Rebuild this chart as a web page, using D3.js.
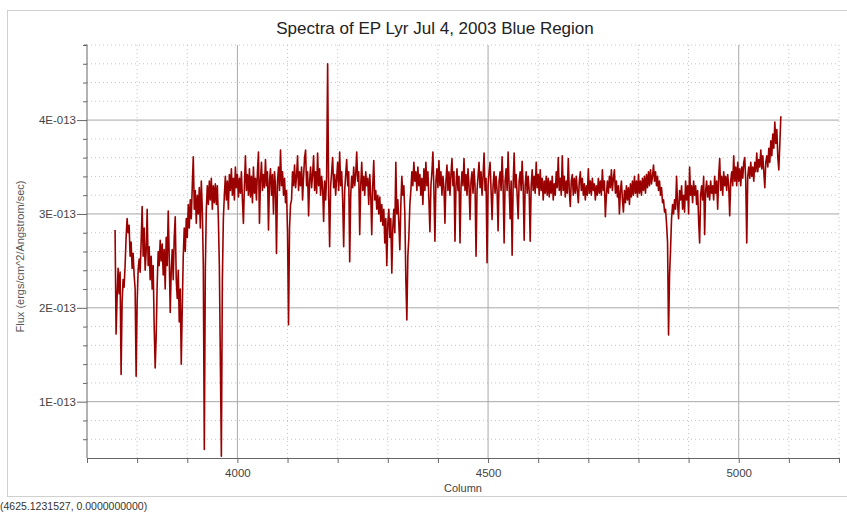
<!DOCTYPE html>
<html><head><meta charset="utf-8">
<script src="https://cdn.jsdelivr.net/npm/d3@7/dist/d3.min.js"></script>
<style>
html,body{margin:0;padding:0;background:#fff;}
svg{display:block;font-family:"Liberation Sans",Arial,sans-serif;}
</style></head><body>
<svg id="chart" width="847" height="514"></svg>
<script>
// Text
const title = "Spectra of EP Lyr Jul 4, 2003 Blue Region";
const xLabel = "Column";
const yLabel = "Flux (ergs/cm^2/Angstrom/sec)";
const cursorReadout = "(4625.1231527, 0.0000000000)";

// Axis ticks
const xMajorTicks = [4000, 4500, 5000];
const yMajorTicks = [1, 2, 3, 4];                 // in units of 1E-013
const yTickLabels = ["1E-013", "2E-013", "3E-013", "4E-013"];

// Spectrum sampling grid (column) and flux, in units of 1E-013 ergs/cm^2/Angstrom/sec
const columnStart = 3756;
const columnStep = 2;
const flux = [
  // 3756 - 3804
  2.83, 1.72, 2.10, 2.42, 2.15, 2.38, 1.29, 2.05, 2.30, 2.22, 2.45, 2.75, 2.95,
  2.80, 2.88, 2.55, 2.70, 2.42, 2.58, 2.35, 2.20, 1.27, 2.05, 2.40, 2.52,
  // 3806 - 3854
  2.38, 2.70, 3.08, 2.55, 2.85, 2.40, 2.60, 3.05, 2.45, 2.65, 2.30, 2.55, 2.20,
  2.45, 1.80, 1.36, 1.70, 2.25, 2.60, 2.45, 2.72, 2.50, 2.68, 2.35, 2.62,
  // 3856 - 3904
  2.20, 2.75, 2.45, 3.03, 2.55, 1.95, 2.40, 2.62, 2.30, 2.75, 2.97, 2.30, 2.10,
  2.40, 1.85, 2.20, 1.40, 2.00, 2.55, 2.85, 2.60, 2.95, 2.75, 3.10, 2.85,
  // 3906 - 3954
  3.15, 2.95, 3.30, 3.61, 3.05, 3.25, 2.90, 3.20, 3.00, 3.28, 2.85, 3.35, 3.05,
  2.45, 0.49, 2.40, 3.05, 3.30, 3.10, 3.35, 3.15, 3.38, 3.05, 3.30, 3.12,
  // 3956 - 4004
  3.32, 3.10, 3.30, 2.95, 2.45, 1.45, 0.42, 2.30, 2.95, 3.20, 3.40, 3.15, 3.35,
  3.05, 3.42, 3.25, 3.48, 3.20, 3.38, 3.15, 3.50, 3.28, 3.42, 3.18, 3.38,
  // 4006 - 4054
  3.22, 3.45, 3.15, 2.90, 3.30, 3.62, 3.25, 3.42, 3.20, 3.48, 3.18, 3.40, 3.12,
  3.50, 3.22, 3.38, 3.15, 3.45, 3.66, 2.90, 3.35, 3.55, 3.25, 3.42, 3.28,
  // 4056 - 4104
  3.58, 3.30, 3.45, 2.83, 3.35, 3.48, 3.20, 3.42, 3.00, 3.45, 3.30, 2.58, 3.35,
  3.50, 3.25, 3.68, 3.30, 3.45, 3.20, 3.38, 3.12, 3.25, 2.80, 1.82, 2.85,
  // 4106 - 4154
  3.10, 3.15, 3.45, 3.30, 3.52, 3.28, 3.40, 3.62, 3.25, 3.45, 3.30, 3.50, 3.15,
  3.40, 3.60, 3.68, 3.30, 3.45, 2.98, 3.35, 3.50, 3.28, 3.42, 3.62, 3.25,
  // 4156 - 4204
  3.45, 3.22, 3.65, 3.30, 3.48, 3.20, 3.40, 3.28, 2.92, 3.35, 3.15, 3.40, 4.60,
  3.20, 2.65, 3.30, 3.45, 3.60, 3.28, 3.42, 3.20, 3.38, 3.55, 3.25, 3.66,
  // 4206 - 4254
  3.30, 3.45, 3.15, 2.65, 3.25, 3.42, 3.58, 3.30, 3.45, 2.49, 3.20, 3.40, 3.28,
  3.50, 3.30, 3.42, 3.66, 3.35, 3.45, 2.78, 3.30, 3.55, 3.25, 3.40, 3.20,
  // 4256 - 4304
  3.45, 3.30, 3.38, 3.10, 3.42, 3.20, 2.78, 3.30, 3.57, 3.15, 3.25, 3.05, 3.20,
  3.00, 3.18, 2.92, 3.10, 2.88, 3.05, 2.69, 2.95, 2.45, 2.90, 3.05, 2.75,
  // 4306 - 4354
  2.95, 2.37, 2.85, 3.05, 2.80, 3.55, 3.00, 3.15, 2.90, 2.62, 3.10, 3.40, 3.20,
  3.30, 3.00, 2.30, 1.87, 2.55, 2.75, 3.10, 3.25, 3.45, 3.30, 3.55, 3.35,
  // 4356 - 4404
  3.45, 3.25, 3.50, 3.30, 3.42, 3.20, 3.38, 3.10, 3.48, 3.25, 3.55, 3.30, 3.45,
  3.15, 2.81, 3.30, 3.45, 3.66, 3.25, 2.71, 3.35, 3.48, 3.28, 3.57, 3.30,
  // 4406 - 4454
  3.45, 3.20, 3.40, 3.28, 2.90, 3.35, 3.52, 3.25, 3.45, 3.20, 3.42, 3.59, 3.30,
  3.45, 2.71, 3.30, 3.48, 3.25, 3.40, 2.69, 3.28, 3.45, 3.30, 3.59, 3.25,
  // 4456 - 4504
  3.42, 3.20, 3.48, 3.30, 2.94, 3.35, 3.45, 3.22, 3.48, 3.30, 2.55, 3.25, 3.40,
  3.55, 3.28, 3.45, 3.20, 3.40, 3.65, 3.25, 3.38, 2.48, 3.30, 3.45, 3.55,
  // 4506 - 4554
  3.25, 2.94, 3.30, 3.45, 3.22, 3.40, 3.25, 2.82, 3.35, 3.45, 3.25, 3.61, 3.30,
  2.69, 3.35, 3.48, 3.25, 3.66, 3.30, 2.95, 3.35, 2.56, 3.30, 3.65, 3.28,
  // 4556 - 4604
  3.42, 3.20, 2.95, 3.35, 3.45, 3.25, 3.56, 3.30, 2.72, 3.30, 3.45, 3.22, 3.40,
  3.25, 2.71, 3.30, 3.47, 3.25, 3.40, 3.22, 3.55, 3.28, 3.42, 3.20, 3.47,
  // 4606 - 4654
  3.25, 3.38, 3.15, 3.35, 3.22, 3.40, 3.20, 3.38, 3.18, 3.35, 3.22, 3.40, 3.15,
  3.32, 3.20, 3.45, 3.28, 3.60, 3.25, 3.38, 3.20, 3.62, 3.25, 3.40, 3.18,
  // 4656 - 4704
  3.35, 3.22, 3.59, 3.25, 3.08, 3.35, 3.42, 3.20, 3.38, 3.22, 3.40, 3.25, 3.12,
  3.35, 3.45, 3.25, 3.38, 3.20, 3.32, 3.15, 3.30, 3.20, 3.48, 3.22, 3.35,
  // 4706 - 4754
  3.20, 3.38, 3.25, 3.32, 3.15, 3.30, 3.20, 3.38, 3.22, 3.35, 3.20, 3.47, 3.25,
  3.35, 2.97, 3.20, 3.35, 3.22, 3.40, 3.28, 3.47, 3.25, 3.38, 3.47, 3.22,
  // 4756 - 4804
  3.35, 3.18, 3.30, 3.00, 3.25, 3.35, 3.15, 3.02, 3.25, 3.12, 3.30, 3.15, 3.28,
  3.10, 3.32, 3.18, 3.35, 3.20, 3.40, 3.22, 3.35, 3.18, 3.42, 3.22, 3.35,
  // 4806 - 4854
  3.20, 3.38, 3.25, 3.40, 3.22, 3.42, 3.28, 3.45, 3.30, 3.47, 3.32, 3.40, 3.52,
  3.35, 3.45, 3.30, 3.40, 3.25, 3.35, 3.20, 3.28, 3.12, 3.15, 3.02, 3.05,
  // 4856 - 4904
  2.90, 2.70, 1.71, 2.35, 2.62, 2.95, 3.10, 3.00, 3.15, 3.05, 3.40, 3.10, 2.95,
  3.25, 3.15, 3.30, 3.05, 3.20, 3.02, 3.35, 3.15, 3.30, 3.00, 3.50, 3.20,
  // 4906 - 4954
  3.30, 3.12, 3.35, 3.20, 3.30, 3.10, 3.25, 2.93, 2.69, 3.20, 3.30, 3.15, 3.40,
  2.78, 3.25, 3.35, 3.18, 3.30, 3.15, 3.35, 3.22, 3.30, 3.15, 3.40, 3.22,
  // 4956 - 5004
  3.35, 3.05, 3.40, 3.59, 3.25, 3.40, 3.20, 3.45, 3.30, 3.40, 3.25, 3.42, 3.30,
  2.98, 3.35, 3.45, 3.30, 3.62, 3.35, 3.50, 3.30, 3.55, 3.35, 3.48, 3.30,
  // 5006 - 5054
  3.50, 3.38, 3.55, 3.60, 3.35, 2.69, 3.40, 3.50, 3.38, 3.55, 3.40, 3.50, 3.35,
  3.55, 3.45, 3.65, 3.45, 3.58, 3.50, 3.68, 3.48, 3.62, 3.45, 3.28, 3.55,
  // 5056 - 5084
  3.62, 3.50, 3.70, 3.55, 3.78, 3.62, 3.85, 3.70, 3.98, 3.75, 3.90, 3.60, 3.47,
  3.75, 4.04
];

const spectrum = flux.map((f, i) => ({ column: columnStart + i * columnStep, flux: f }));

// Layout
const W = 847, H = 514;
const plot = { left: 87, right: 839, top: 45, bottom: 458 };

const svg = d3.select("#chart");

const x = d3.scaleLinear().domain([3700, 5200]).range([plot.left, plot.right]);
const y = d3.scaleLinear().domain([0.4, 4.8]).range([plot.bottom, plot.top]);

// Outer frame
svg.append("rect")
  .attr("x", 7.5).attr("y", 10.5)
  .attr("width", W - 7).attr("height", 486)
  .attr("fill", "none").attr("stroke", "#d0d0d0");

// Minor grid (dotted)
const xMinor = d3.range(3800, 5201, 100).filter(v => !xMajorTicks.includes(v));
const yAllSteps = d3.range(3, 25).map(k => k / 5);     // 0.6 .. 4.8
const yMinor = yAllSteps.filter(v => Math.abs(v - Math.round(v)) > 1e-6);

const grid = svg.append("g");
grid.selectAll(".xminor").data(xMinor).join("line")
  .attr("x1", d => x(d)).attr("x2", d => x(d))
  .attr("y1", plot.top).attr("y2", plot.bottom)
  .attr("stroke", "#c4c4c4").attr("stroke-dasharray", "1,3");
grid.selectAll(".yminor").data(yMinor).join("line")
  .attr("x1", plot.left).attr("x2", plot.right)
  .attr("y1", d => y(d)).attr("y2", d => y(d))
  .attr("stroke", "#c4c4c4").attr("stroke-dasharray", "1,3");

// Major grid (solid)
grid.selectAll(".xmajor").data(xMajorTicks).join("line")
  .attr("x1", d => x(d)).attr("x2", d => x(d))
  .attr("y1", plot.top).attr("y2", plot.bottom)
  .attr("stroke", "#a8a8a8");
grid.selectAll(".ymajor").data(yMajorTicks).join("line")
  .attr("x1", plot.left).attr("x2", plot.right)
  .attr("y1", d => y(d)).attr("y2", d => y(d))
  .attr("stroke", "#a8a8a8");

// X axis
const xAxis = d3.axisBottom(x)
  .tickValues(d3.range(3700, 5201, 100))
  .tickSize(5)
  .tickFormat(d => xMajorTicks.includes(d) ? d3.format("d")(d) : "");
const gx = svg.append("g").attr("transform", `translate(0,${plot.bottom})`).call(xAxis);
gx.select(".domain").attr("stroke", "#666");
gx.selectAll(".tick line").attr("stroke", "#666");
gx.selectAll(".tick text").attr("fill", "#444").attr("font-size", 11.5)
  .attr("font-family", "Liberation Sans, Arial, sans-serif").attr("dy", "0.95em");

// Y axis: minor ticks then major ticks with labels
const gyMinor = svg.append("g").attr("transform", `translate(${plot.left},0)`)
  .call(d3.axisLeft(y).tickValues(yMinor).tickSize(4).tickFormat(""));
gyMinor.select(".domain").remove();
gyMinor.selectAll(".tick line").attr("stroke", "#666");

const gy = svg.append("g").attr("transform", `translate(${plot.left},0)`)
  .call(d3.axisLeft(y).tickValues(yMajorTicks).tickSize(10).tickPadding(1)
    .tickFormat((d, i) => yTickLabels[i]));
gy.select(".domain").attr("stroke", "#666").attr("d", `M-3,${plot.top}H0V${plot.bottom}`);
gy.selectAll(".tick line").attr("stroke", "#666");
gy.selectAll(".tick text").attr("fill", "#444").attr("font-size", 11.5)
  .attr("font-family", "Liberation Sans, Arial, sans-serif");

// Spectrum line
const line = d3.line().x(d => x(d.column)).y(d => y(d.flux));
svg.append("path")
  .datum(spectrum)
  .attr("d", line)
  .attr("fill", "none")
  .attr("stroke", "#9a0000")
  .attr("stroke-width", 1.6)
  .attr("stroke-linejoin", "round");

// Title and axis labels
svg.append("text")
  .attr("x", 435).attr("y", 34)
  .attr("text-anchor", "middle")
  .attr("font-size", 17).attr("fill", "#222")
  .text(title);

svg.append("text")
  .attr("x", (plot.left + plot.right) / 2).attr("y", 492)
  .attr("text-anchor", "middle")
  .attr("font-size", 11).attr("fill", "#444")
  .text(xLabel);

svg.append("text")
  .attr("transform", `translate(24,${(plot.top + plot.bottom) / 2 + 5}) rotate(-90)`)
  .attr("text-anchor", "middle")
  .attr("font-size", 11).attr("fill", "#555")
  .text(yLabel);

svg.append("text")
  .attr("x", 0).attr("y", 510)
  .attr("font-size", 10.5).attr("fill", "#333")
  .text(cursorReadout);
</script>
</body></html>
